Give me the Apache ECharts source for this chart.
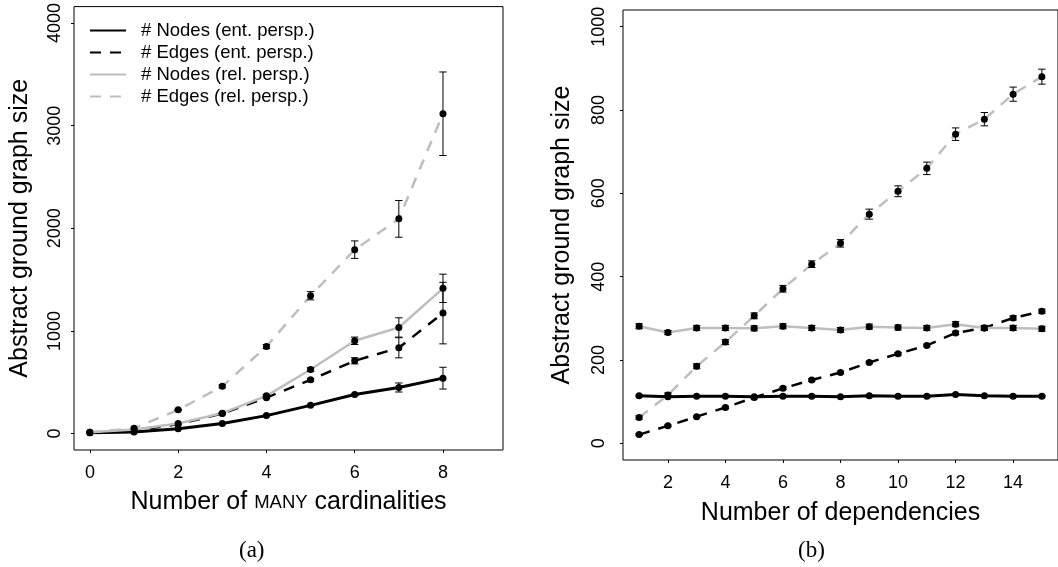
<!DOCTYPE html>
<html>
<head>
<meta charset="utf-8">
<script src="https://cdn.jsdelivr.net/npm/echarts@6/dist/echarts.min.js"></script>
<style>
html,body{margin:0;padding:0;background:#fff;}
#c{width:1058px;height:567px;}
</style>
</head>
<body>
<div id="c"></div>
<script>
// ---- Data: panel (a) ----
const xA = [0, 1, 2, 3, 4, 5, 6, 7, 8];
const nodesEntA = [8, 16, 48, 98, 175, 275, 380, 449, 540];
const edgesEntA = [8, 28, 92, 195, 350, 524, 709, 836, 1174];
const nodesRelA = [12, 40, 98, 199, 368, 624, 904, 1034, 1415];
const edgesRelA = [12, 52, 231, 460, 848, 1343, 1792, 2092, 3116];
const nodesEntErrA = [0, 0, 0, 0, 4, 6, 10, 44, 106];
const edgesEntErrA = [0, 0, 0, 4, 8, 12, 30, 98, 300];
const nodesRelErrA = [0, 0, 0, 5, 12, 18, 36, 94, 138];
const edgesRelErrA = [0, 0, 6, 14, 20, 40, 85, 179, 407];

// ---- Data: panel (b) ----
const xB = [1, 2, 3, 4, 5, 6, 7, 8, 9, 10, 11, 12, 13, 14, 15];
const nodesEntB = [114, 112, 113, 113, 112, 113, 113, 112, 114, 113, 113, 117, 114, 113, 113];
const edgesEntB = [21, 42, 64, 86, 110, 132, 152, 170, 194, 215, 235, 265, 277, 301, 317];
const nodesRelB = [281, 266, 277, 277, 276, 281, 277, 272, 280, 278, 277, 286, 277, 277, 275];
const edgesRelB = [62, 116, 185, 243, 306, 371, 430, 480, 550, 605, 660, 742, 778, 838, 880];
const nodesEntErrB = [2, 2, 2, 2, 2, 2, 2, 2, 2, 2, 2, 2, 2, 2, 2];
const edgesEntErrB = [2, 2, 2, 3, 3, 3, 3, 3, 3, 3, 3, 4, 4, 5, 5];
const nodesRelErrB = [6, 5, 6, 6, 6, 6, 6, 6, 6, 6, 6, 6, 6, 6, 6];
const edgesRelErrB = [4, 5, 6, 6, 7, 8, 8, 9, 12, 13, 15, 15, 16, 17, 18];

// ---- Tick labels ----
const xTicksA = [0, 2, 4, 6, 8];
const yTicksA = [0, 1000, 2000, 3000, 4000];
const xTicksB = [2, 4, 6, 8, 10, 12, 14];
const yTicksB = [0, 200, 400, 600, 800, 1000];

const names = ['# Nodes (ent. persp.)', '# Edges (ent. persp.)', '# Nodes (rel. persp.)', '# Edges (rel. persp.)'];

const FONT = 'Liberation Sans';
const GREY = '#bebebe';
const lineStyles = [
  {color: '#000', width: 3, type: 'solid'},
  {color: '#000', width: 2.5, type: [11, 9]},
  {color: GREY, width: 2.5, type: 'solid'},
  {color: GREY, width: 2.5, type: [11, 9]}
];

function pairs(xs, ys) { return xs.map((x, i) => [x, ys[i]]); }
function triples(xs, ys, es) { return xs.map((x, i) => [x, ys[i], es[i]]); }

function lineSeries(idx, gi, xs, ys) {
  return {
    type: 'line', name: names[idx], xAxisIndex: gi, yAxisIndex: gi,
    data: pairs(xs, ys), symbol: 'circle', symbolSize: 7,
    itemStyle: {color: '#000'}, lineStyle: lineStyles[idx],
    z: 2 + idx * 0.1, animation: false, emphasis: {disabled: true}
  };
}

function errSeries(gi, xs, ys, es) {
  return {
    type: 'custom', xAxisIndex: gi, yAxisIndex: gi, z: 5, animation: false, silent: true,
    data: triples(xs, ys, es),
    encode: {x: 0, y: 1},
    renderItem: function (params, api) {
      const x = api.value(0), y = api.value(1), e = api.value(2);
      if (!e) return null;
      const lo = api.coord([x, y - e]);
      const hi = api.coord([x, y + e]);
      const w = 3.7;
      const st = {stroke: '#000', lineWidth: 1};
      return {
        type: 'group',
        children: [
          {type: 'line', shape: {x1: lo[0], y1: lo[1], x2: hi[0], y2: hi[1]}, style: st},
          {type: 'line', shape: {x1: lo[0] - w, y1: lo[1], x2: lo[0] + w, y2: lo[1]}, style: st},
          {type: 'line', shape: {x1: hi[0] - w, y1: hi[1], x2: hi[0] + w, y2: hi[1]}, style: st}
        ]
      };
    }
  };
}

const plain = v => String(v);
const axisLabelBase = {color: '#000', fontFamily: FONT, fontSize: 18, formatter: plain};
const nameBase = {color: '#000', fontFamily: FONT, fontSize: 25};

const chart = echarts.init(document.getElementById('c'), null, {renderer: 'canvas'});
chart.setOption({
  backgroundColor: '#fff',
  animation: false,
  grid: [
    {left: 74, top: 6, width: 429, height: 444, show: true, borderColor: '#000', borderWidth: 1, backgroundColor: 'transparent', containLabel: false},
    {left: 623, top: 10, width: 436, height: 450, show: true, borderColor: '#000', borderWidth: 1, backgroundColor: 'transparent', containLabel: false}
  ],
  xAxis: [
    {type: 'value', gridIndex: 0, min: -0.36, max: 9.36,
     axisLine: {show: false, onZero: false}, splitLine: {show: false},
     axisTick: {show: true, length: 3, customValues: xTicksA, lineStyle: {color: '#000'}},
     axisLabel: Object.assign({margin: 14, customValues: xTicksA}, axisLabelBase),
     name: 'Number of {sc|MANY} cardinalities', nameLocation: 'middle', nameGap: 40,
     nameTextStyle: Object.assign({rich: {sc: {fontFamily: FONT, fontSize: 18.5, color: '#000'}}}, nameBase)},
    {type: 'value', gridIndex: 1, min: 0.44, max: 15.56,
     axisLine: {show: false, onZero: false}, splitLine: {show: false},
     axisTick: {show: true, length: 3, customValues: xTicksB, lineStyle: {color: '#000'}},
     axisLabel: Object.assign({margin: 14, customValues: xTicksB}, axisLabelBase),
     name: 'Number of dependencies', nameLocation: 'middle', nameGap: 41,
     nameTextStyle: nameBase}
  ],
  yAxis: [
    {type: 'value', gridIndex: 0, min: -160, max: 4160,
     axisLine: {show: false, onZero: false}, splitLine: {show: false},
     axisTick: {show: true, length: 3, customValues: yTicksA, lineStyle: {color: '#000'}},
     axisLabel: Object.assign({margin: 10, rotate: 90, customValues: yTicksA}, axisLabelBase),
     name: 'Abstract ground graph size', nameLocation: 'middle', nameGap: 41,
     nameTextStyle: nameBase},
    {type: 'value', gridIndex: 1, min: -40, max: 1040,
     axisLine: {show: false, onZero: false}, splitLine: {show: false},
     axisTick: {show: true, length: 3, customValues: yTicksB, lineStyle: {color: '#000'}},
     axisLabel: Object.assign({margin: 15, rotate: 90, customValues: yTicksB}, axisLabelBase),
     name: 'Abstract ground graph size', nameLocation: 'middle', nameGap: 48,
     nameTextStyle: nameBase}
  ],
  legend: {
    data: names, orient: 'vertical', left: 84, top: 16,
    itemWidth: 36, itemHeight: 14, itemGap: 3,
    selectedMode: false,
    itemStyle: {opacity: 0, color: 'transparent', borderWidth: 0},
    textStyle: {color: '#000', fontFamily: FONT, fontSize: 18.5, padding: [0, 0, 0, 10]}
  },
  graphic: [
    {type: 'text', left: 239, top: 539, style: {text: '(a)', font: '23px "Liberation Serif"', fill: '#000'}},
    {type: 'text', left: 798, top: 539, style: {text: '(b)', font: '23px "Liberation Serif"', fill: '#000'}}
  ],
  series: [
    lineSeries(3, 0, xA, edgesRelA),
    lineSeries(2, 0, xA, nodesRelA),
    lineSeries(1, 0, xA, edgesEntA),
    lineSeries(0, 0, xA, nodesEntA),
    errSeries(0, xA, edgesRelA, edgesRelErrA),
    errSeries(0, xA, nodesRelA, nodesRelErrA),
    errSeries(0, xA, edgesEntA, edgesEntErrA),
    errSeries(0, xA, nodesEntA, nodesEntErrA),
    lineSeries(3, 1, xB, edgesRelB),
    lineSeries(2, 1, xB, nodesRelB),
    lineSeries(1, 1, xB, edgesEntB),
    lineSeries(0, 1, xB, nodesEntB),
    errSeries(1, xB, edgesRelB, edgesRelErrB),
    errSeries(1, xB, nodesRelB, nodesRelErrB),
    errSeries(1, xB, edgesEntB, edgesEntErrB),
    errSeries(1, xB, nodesEntB, nodesEntErrB)
  ]
});
</script>
</body>
</html>
